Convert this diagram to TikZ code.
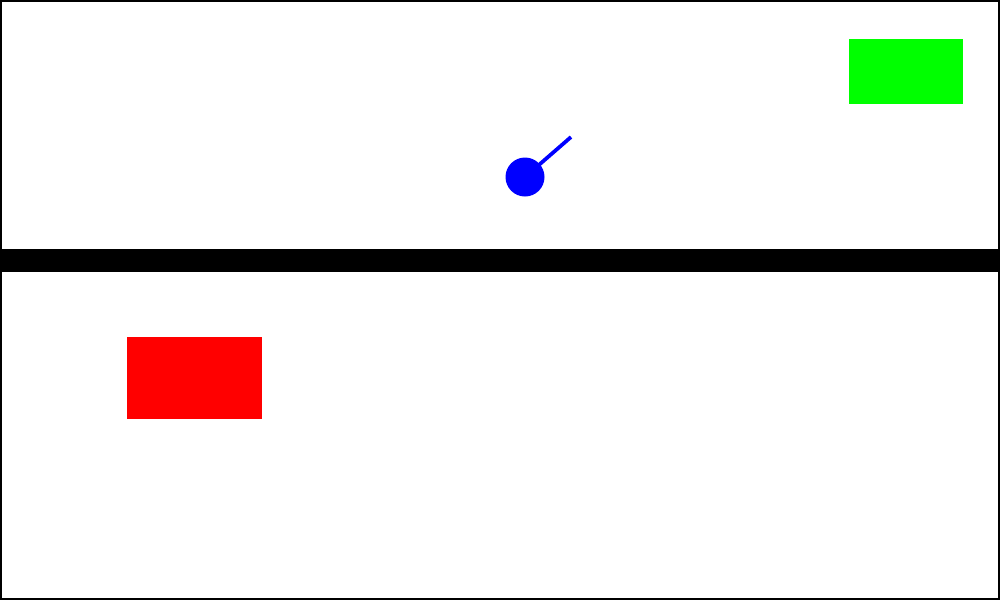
\documentclass[tikz,border=0pt]{standalone}
\begin{document}
\begin{tikzpicture}[x=0.02cm,y=-0.02cm,
  framebox/.style={draw=black,line width=0.04cm},
  aimline/.style={draw=blue,line width=0.075cm}]
\useasboundingbox (0,0) rectangle (1000,600);
\fill[white] (0,0) rectangle (1000,600);
\draw[framebox] (1,1) rectangle (999,599);
% ground bar
\fill[black] (0,249) rectangle (1000,272);
% target
\fill[green] (849,39) rectangle (963,104);
% obstacle
\fill[red] (127,337) rectangle (262,419);
% ball and aim line
\draw[aimline] (525,177) -- (571,137);
\fill[blue] (525,177) circle (19.5);
\end{tikzpicture}
\end{document}
